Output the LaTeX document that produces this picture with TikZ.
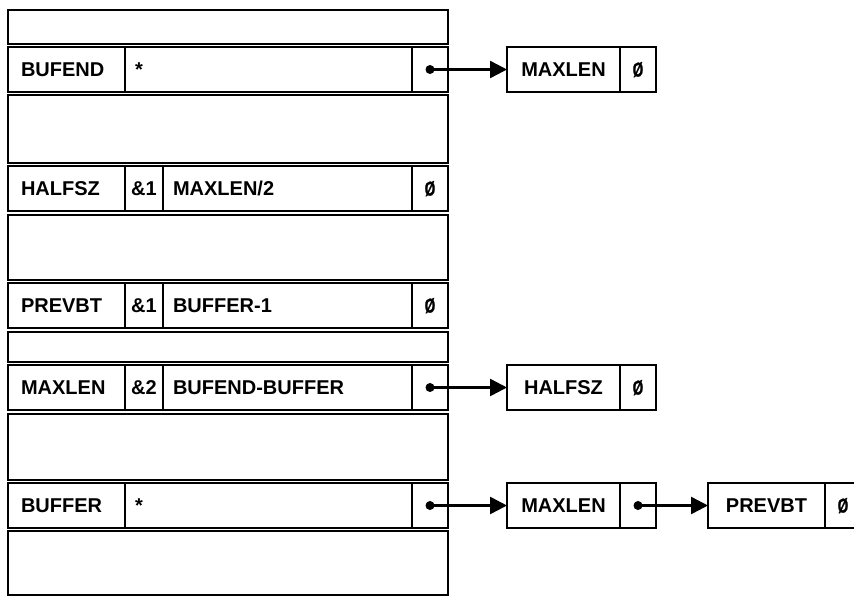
\documentclass[tikz,border=0pt]{standalone}
\usepackage{fontspec}
\setmainfont{Liberation Sans}
\newfontfamily\zerofont[FakeBold=1.5]{Liberation Sans}
\usetikzlibrary{positioning,arrows.meta}

\newcommand{\recfont}{\fontsize{20}{22}\selectfont\bfseries}
\newcommand{\slzero}{{\zerofont\bfseries\scalebox{0.68}[1]{Ø}}}

\begin{document}
\begin{tikzpicture}[x=1pt,y=-1pt,
    cell/.style={draw, line width=1.8pt, outer sep=0pt, inner ysep=0pt,
      minimum height=45pt, text height=14pt, text depth=0pt, font=\recfont},
    slot/.style={cell, anchor=north west, minimum width=440pt},
    namecell/.style={cell, minimum width=117pt, text width=91pt,
      inner xsep=13pt, align=left},
    ampcell/.style={cell, minimum width=38pt, inner xsep=0pt},
    valcell/.style={cell, minimum width=#1, text width=#1-20pt,
      inner xsep=10pt, align=left},
    ptrcell/.style={cell, minimum width=36pt, inner xsep=0pt},
    listcell/.style={cell, minimum width=#1, inner xsep=0pt},
    link/.style={line width=2.5pt, -{Triangle[length=17pt,width=17pt]}},
    dot/.style={fill=black}]
  \useasboundingbox (0,0) rectangle (854,598);

  % empty slots
  \node[slot, minimum height=34pt] (s1) at (8,10) {};
  \node[slot, minimum height=68pt] (s2) at (8,95) {};
  \node[slot, minimum height=65pt] (s3) at (8,215) {};
  \node[slot, minimum height=30pt] (s4) at (8,332) {};
  \node[slot, minimum height=66pt] (s5) at (8,414) {};
  \node[slot, minimum height=64pt] (s6) at (8,531) {};

  % entries
  \node[namecell, anchor=north west] (bufend) at (8,47) {BUFEND};
  \node[valcell=287pt, right=0pt of bufend] (bufend-val) {*};
  \node[ptrcell, right=0pt of bufend-val] (bufend-ptr) {};

  \node[namecell, anchor=north west] (halfsz) at (8,166) {HALFSZ};
  \node[ampcell, right=0pt of halfsz] (halfsz-len) {\&1};
  \node[valcell=249pt, right=0pt of halfsz-len] (halfsz-val) {MAXLEN/2};
  \node[ptrcell, right=0pt of halfsz-val] (halfsz-ptr) {\slzero};

  \node[namecell, anchor=north west] (prevbt) at (8,283) {PREVBT};
  \node[ampcell, right=0pt of prevbt] (prevbt-len) {\&1};
  \node[valcell=249pt, right=0pt of prevbt-len] (prevbt-val) {BUFFER-1};
  \node[ptrcell, right=0pt of prevbt-val] (prevbt-ptr) {\slzero};

  \node[namecell, anchor=north west] (maxlen) at (8,365) {MAXLEN};
  \node[ampcell, right=0pt of maxlen] (maxlen-len) {\&2};
  \node[valcell=249pt, right=0pt of maxlen-len] (maxlen-val) {BUFEND-BUFFER};
  \node[ptrcell, right=0pt of maxlen-val] (maxlen-ptr) {};

  \node[namecell, anchor=north west] (buffer) at (8,483) {BUFFER};
  \node[valcell=287pt, right=0pt of buffer] (buffer-val) {*};
  \node[ptrcell, right=0pt of buffer-val] (buffer-ptr) {};

  % reference lists
  \node[listcell=113pt, right=59pt of bufend-ptr] (ref-a) {MAXLEN};
  \node[ptrcell, right=0pt of ref-a] (ref-a-ptr) {\slzero};

  \node[listcell=113pt, right=59pt of maxlen-ptr] (ref-b) {HALFSZ};
  \node[ptrcell, right=0pt of ref-b] (ref-b-ptr) {\slzero};

  \node[listcell=113pt, right=59pt of buffer-ptr] (ref-c) {MAXLEN};
  \node[ptrcell, right=0pt of ref-c] (ref-c-ptr) {};
  \node[listcell=117pt, right=52pt of ref-c-ptr] (ref-d) {PREVBT};
  \node[ptrcell, right=0pt of ref-d] (ref-d-ptr) {\slzero};

  % pointers
  \fill[dot] (bufend-ptr.center) circle (4.5pt);
  \draw[link] (bufend-ptr.center) -- (ref-a);
  \fill[dot] (maxlen-ptr.center) circle (4.5pt);
  \draw[link] (maxlen-ptr.center) -- (ref-b);
  \fill[dot] (buffer-ptr.center) circle (4.5pt);
  \draw[link] (buffer-ptr.center) -- (ref-c);
  \fill[dot] (ref-c-ptr.center) circle (4.5pt);
  \draw[link] (ref-c-ptr.center) -- (ref-d);
\end{tikzpicture}
\end{document}
